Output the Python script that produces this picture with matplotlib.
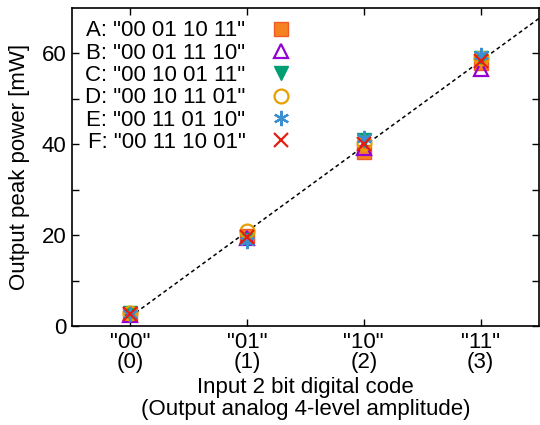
import numpy as np
import matplotlib
matplotlib.use('Agg')
import matplotlib.pyplot as plt

plt.rcParams['font.family'] = ['Liberation Sans', 'DejaVu Sans']

# data
codes = [0, 1, 2, 3]
tick_labels = ['"00"\n(0)', '"01"\n(1)', '"10"\n(2)', '"11"\n(3)']
labels = ['A: "00 01 10 11"', 'B: "00 01 11 10"', 'C: "00 10 01 11"',
          'D: "00 10 11 01"', 'E: "00 11 01 10"', 'F: "00 11 10 01"']
power_A = [2.7, 19.8, 38.3, 58.0]
power_B = [2.5, 19.4, 39.2, 56.6]
power_C = [2.8, 19.0, 41.0, 59.0]
power_D = [2.9, 20.9, 40.4, 59.0]
power_E = [2.7, 18.8, 41.3, 59.6]
power_F = [2.6, 19.6, 40.0, 58.4]

series = [power_A, power_B, power_C, power_D, power_E, power_F]
styles = [
    dict(marker='s', color='#F58220', mfc='#F58220', mec='#F05A28', ms=10),
    dict(marker='^', color='#9400D3', mfc='none', mec='#9400D3', ms=10, mew=1.6),
    dict(marker='v', color='#009E73', mfc='#009E73', mec='#009E73', ms=10),
    dict(marker='o', color='#E69F00', mfc='none', mec='#E69F00', ms=10, mew=1.6),
    dict(marker=(6, 2, 0), color='#3A8FD0', mec='#3A8FD0', ms=11, mew=1.6),
    dict(marker='x', color='#E51E10', mec='#E51E10', ms=10, mew=1.6),
]

fig = plt.figure(figsize=(5.4, 4.25), dpi=100)
ax = fig.add_axes([0.133, 0.233, 0.865, 0.748])

# linear fit through all points
allx = np.tile(codes, len(series))
ally = np.concatenate(series)
k, b = np.polyfit(allx, ally, 1)
fx = np.array([0, 3.5])
ax.plot(fx, k * fx + b, color='black', ls=(0, (2.5, 2)), lw=1.1, zorder=1)

for y, lab, st in zip(series, labels, styles):
    ax.plot(codes, y, ls='none', label=lab, zorder=3, **st)

ax.set_xlim(-0.5, 3.5)
ax.set_ylim(0, 70)
ax.set_xticks(codes)
ax.set_xticklabels(tick_labels, fontsize=16, linespacing=0.95)
ax.set_yticks(np.arange(0, 70, 10))
ax.set_yticklabels(['0', '', '20', '', '40', '', '60'], fontsize=16)
ax.tick_params(direction='in', top=True, right=True, length=5, width=1, pad=4)
for s in ax.spines.values():
    s.set_linewidth(1.2)

ax.set_xlabel('Input 2 bit digital code\n(Output analog 4-level amplitude)', fontsize=16,
              linespacing=1.1, labelpad=3)
ax.set_ylabel('Output peak power [mW]', fontsize=16, labelpad=8)

ax.legend(loc='upper left', bbox_to_anchor=(-0.005, 1.01), frameon=False, markerfirst=False,
          fontsize=16, handlelength=1.0, handletextpad=1.1, labelspacing=0.06,
          borderaxespad=0.3)

fig.savefig('out.png', dpi=100)
